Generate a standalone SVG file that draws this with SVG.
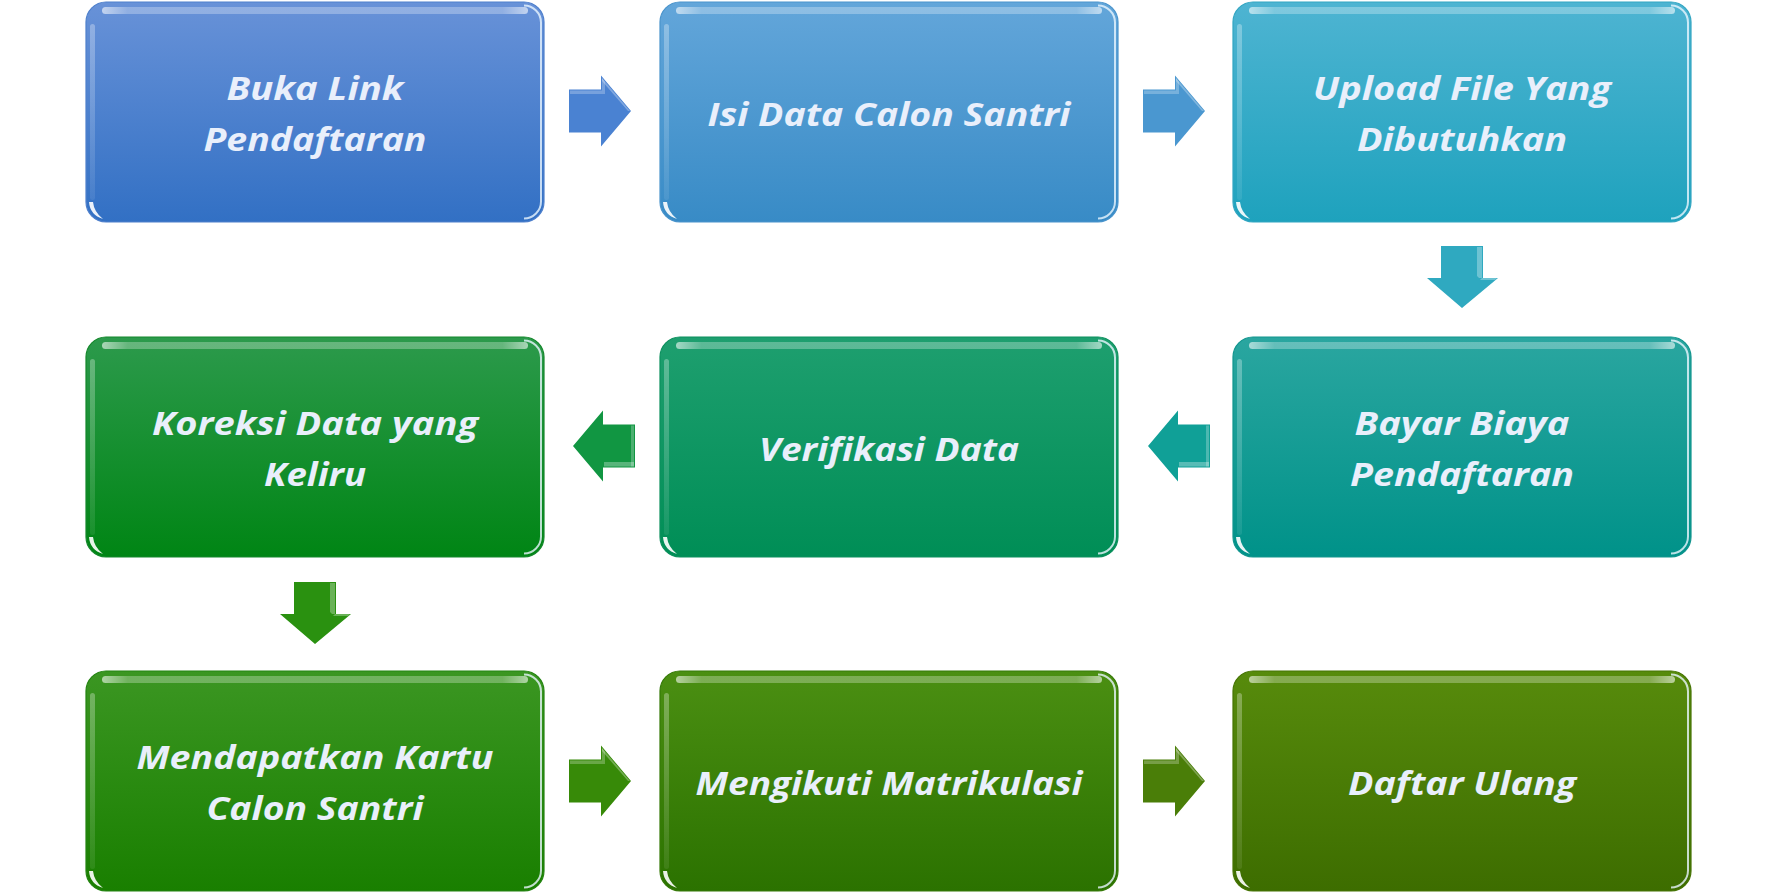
<svg xmlns="http://www.w3.org/2000/svg" xmlns:xlink="http://www.w3.org/1999/xlink" width="1778" height="893" viewBox="0 0 1778 893">
<style>
.lbl{font-family:"Open Sans","Liberation Sans",sans-serif;font-weight:700;font-style:italic;font-size:33px;fill:#e9effb;text-anchor:middle}
.box{stroke-width:1.2}
</style>
<defs>
<linearGradient id="g1" x1="0" y1="0" x2="0" y2="1"><stop offset="0" stop-color="#6892d8"/><stop offset="1" stop-color="#3270c4"/></linearGradient>
<linearGradient id="g2" x1="0" y1="0" x2="0" y2="1"><stop offset="0" stop-color="#63a6da"/><stop offset="1" stop-color="#388bc6"/></linearGradient>
<linearGradient id="g3" x1="0" y1="0" x2="0" y2="1"><stop offset="0" stop-color="#4eb4d2"/><stop offset="1" stop-color="#1ea2bd"/></linearGradient>
<linearGradient id="g4" x1="0" y1="0" x2="0" y2="1"><stop offset="0" stop-color="#2aa6a0"/><stop offset="1" stop-color="#009289"/></linearGradient>
<linearGradient id="g5" x1="0" y1="0" x2="0" y2="1"><stop offset="0" stop-color="#1e9f6f"/><stop offset="1" stop-color="#008e56"/></linearGradient>
<linearGradient id="g6" x1="0" y1="0" x2="0" y2="1"><stop offset="0" stop-color="#2c9a4c"/><stop offset="1" stop-color="#008514"/></linearGradient>
<linearGradient id="g7" x1="0" y1="0" x2="0" y2="1"><stop offset="0" stop-color="#3b9622"/><stop offset="1" stop-color="#197f00"/></linearGradient>
<linearGradient id="g8" x1="0" y1="0" x2="0" y2="1"><stop offset="0" stop-color="#4b8f12"/><stop offset="1" stop-color="#2b7200"/></linearGradient>
<linearGradient id="g9" x1="0" y1="0" x2="0" y2="1"><stop offset="0" stop-color="#578b0c"/><stop offset="1" stop-color="#3d6d00"/></linearGradient>
<linearGradient id="topHl" x1="0" y1="0" x2="1" y2="0"><stop offset="0" stop-color="#ffffff" stop-opacity="0.6"/><stop offset="0.06" stop-color="#ffffff" stop-opacity="0.28"/><stop offset="0.94" stop-color="#ffffff" stop-opacity="0.28"/><stop offset="1" stop-color="#ffffff" stop-opacity="0.6"/></linearGradient>
<linearGradient id="leftHl" x1="0" y1="0" x2="0" y2="1"><stop offset="0" stop-color="#ffffff" stop-opacity="0.3"/><stop offset="1" stop-color="#ffffff" stop-opacity="0.08"/></linearGradient>
<g id="gloss">
<rect x="16" y="5" width="426" height="7" rx="3.5" fill="url(#topHl)"/>
<rect x="4" y="22" width="5" height="176" rx="2.5" fill="url(#leftHl)"/>
<path d="M438,3.5 A17 17 0 0 1 455,20.5 V199.5 A17 17 0 0 1 438,216.5" fill="none" stroke="#eaf6ff" stroke-opacity="0.8" stroke-width="2"/>
<path d="M3,200 Q4,213 17,217 Q8,210 7,200 Z" fill="#ffffff" fill-opacity="0.9"/>
</g>
<g id="arrR">
<path d="M0,-21.5 H32 V-35.5 L62,0 L32,35.5 V21.5 H0 Z"/>
<path d="M1,-20.5 H33 V-33 L36,-29 V-17 H1 Z" fill="#ffffff" fill-opacity="0.25"/>
<path d="M33,-33 L61,0 L59,0 L33,-30 Z" fill="#ffffff" fill-opacity="0.3"/>
</g>
<g id="arrL">
<path d="M0,0 L30,-35.5 V-21.5 H62 V21.5 H30 V35.5 Z"/>
<path d="M31,16 H61 V20.5 H31 Z" fill="#ffffff" fill-opacity="0.3"/>
<path d="M58,-20.5 H61 V20.5 H58 Z" fill="#ffffff" fill-opacity="0.25"/>
</g>
<g id="arrD">
<path d="M-21,0 H21 V32 H36 L0,62 L-35,32 H-21 Z"/>
<path d="M15,1 H20 V32 H17 L15,30 Z" fill="#ffffff" fill-opacity="0.3"/>
<path d="M20,32 H35 L33,34 H18 Z" fill="#ffffff" fill-opacity="0.3"/>
</g>
</defs>
<rect width="1778" height="893" fill="#ffffff"/>

<g id="connectors">
<use href="#arrR" x="569" y="111" fill="#4a82d2"/>
<use href="#arrR" x="1143" y="111" fill="#4a97d0"/>
<use href="#arrD" x="1462" y="246" fill="#2fa9c0"/>
<use href="#arrL" x="1148" y="446" fill="#10a097"/>
<use href="#arrL" x="573" y="446" fill="#119642"/>
<use href="#arrD" x="315" y="582" fill="#2a9110"/>
<use href="#arrR" x="569" y="781" fill="#378a08"/>
<use href="#arrR" x="1143" y="781" fill="#4a7e08"/>
</g>

<g id="n1" transform="translate(86,2)">
<rect class="box" width="458" height="220" rx="20" fill="url(#g1)" stroke="#4f80cc"/>
<use href="#gloss"/>
<text class="lbl" x="229" y="98" textLength="177" lengthAdjust="spacingAndGlyphs">Buka Link</text>
<text class="lbl" x="229" y="149" textLength="223" lengthAdjust="spacingAndGlyphs">Pendaftaran</text>
</g>
<g id="n2" transform="translate(660,2)">
<rect class="box" width="458" height="220" rx="20" fill="url(#g2)" stroke="#4a94cc"/>
<use href="#gloss"/>
<text class="lbl" x="229" y="124" textLength="363" lengthAdjust="spacingAndGlyphs">Isi Data Calon Santri</text>
</g>
<g id="n3" transform="translate(1233,2)">
<rect class="box" width="458" height="220" rx="20" fill="url(#g3)" stroke="#33a6c2"/>
<use href="#gloss"/>
<text class="lbl" x="229" y="98" textLength="298" lengthAdjust="spacingAndGlyphs">Upload File Yang</text>
<text class="lbl" x="229" y="149" textLength="210" lengthAdjust="spacingAndGlyphs">Dibutuhkan</text>
</g>
<g id="n4" transform="translate(1233,337)">
<rect class="box" width="458" height="220" rx="20" fill="url(#g4)" stroke="#12958e"/>
<use href="#gloss"/>
<text class="lbl" x="229" y="98" textLength="215" lengthAdjust="spacingAndGlyphs">Bayar Biaya</text>
<text class="lbl" x="229" y="149" textLength="224" lengthAdjust="spacingAndGlyphs">Pendaftaran</text>
</g>
<g id="n5" transform="translate(660,337)">
<rect class="box" width="458" height="220" rx="20" fill="url(#g5)" stroke="#0d905e"/>
<use href="#gloss"/>
<text class="lbl" x="229" y="124" textLength="260" lengthAdjust="spacingAndGlyphs">Verifikasi Data</text>
</g>
<g id="n6" transform="translate(86,337)">
<rect class="box" width="458" height="220" rx="20" fill="url(#g6)" stroke="#15882c"/>
<use href="#gloss"/>
<text class="lbl" x="229" y="98" textLength="326" lengthAdjust="spacingAndGlyphs">Koreksi Data yang</text>
<text class="lbl" x="229" y="149" textLength="102" lengthAdjust="spacingAndGlyphs">Keliru</text>
</g>
<g id="n7" transform="translate(86,671)">
<rect class="box" width="458" height="220" rx="20" fill="url(#g7)" stroke="#248412"/>
<use href="#gloss"/>
<text class="lbl" x="229" y="98" textLength="357" lengthAdjust="spacingAndGlyphs">Mendapatkan Kartu</text>
<text class="lbl" x="229" y="149" textLength="217" lengthAdjust="spacingAndGlyphs">Calon Santri</text>
</g>
<g id="n8" transform="translate(660,671)">
<rect class="box" width="458" height="220" rx="20" fill="url(#g8)" stroke="#367a08"/>
<use href="#gloss"/>
<text class="lbl" x="229" y="124" textLength="387" lengthAdjust="spacingAndGlyphs">Mengikuti Matrikulasi</text>
</g>
<g id="n9" transform="translate(1233,671)">
<rect class="box" width="458" height="220" rx="20" fill="url(#g9)" stroke="#467404"/>
<use href="#gloss"/>
<text class="lbl" x="229" y="124" textLength="228" lengthAdjust="spacingAndGlyphs">Daftar Ulang</text>
</g>
</svg>
